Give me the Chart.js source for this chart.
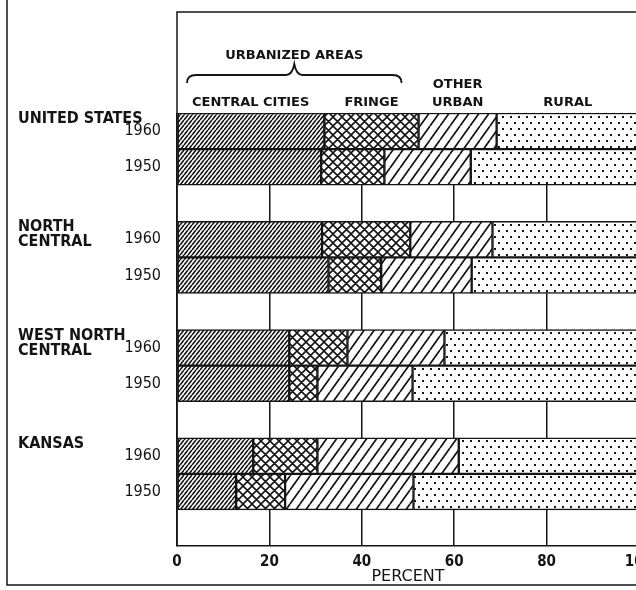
<!DOCTYPE html>
<html>
<head>
<meta charset="utf-8">
<script src="https://cdn.jsdelivr.net/npm/chart.js@4.4.0/dist/chart.umd.min.js"></script>
<style>
  html, body { margin: 0; padding: 0; background: #fff; overflow: hidden; }
  #wrap { width: 660px; height: 590px; }
</style>
</head>
<body>
<div id="wrap"><canvas id="chart" width="660" height="590"></canvas></div>
<script>
// areas, each shown for two census years
var regionLines = [['UNITED STATES'], ['NORTH', 'CENTRAL'], ['WEST NORTH', 'CENTRAL'], ['KANSAS']];
var years = ['1960', '1950'];

// percent of population
// order: US 1960, US 1950, NC 1960, NC 1950, WNC 1960, WNC 1950, KS 1960, KS 1950
var centralCities = [31.9, 31.2, 31.4, 32.8, 24.3, 24.3, 16.5, 12.8];
var fringe        = [20.4, 13.7, 19.1, 11.4, 12.6,  6.1, 13.9, 10.6];
var otherUrban    = [16.9, 18.7, 17.8, 19.6, 21.0, 20.6, 30.6, 27.8];
var rural         = [30.8, 36.4, 31.7, 36.2, 42.1, 49.0, 39.0, 48.8];

var seriesHeads = [['CENTRAL CITIES'], ['FRINGE'], ['OTHER', 'URBAN'], ['RURAL']];
var groupHead = 'URBANIZED AREAS';
var xTicks = [0, 20, 40, 60, 80, 100];

var INK = '#141414';

// one row per year, plus an empty row after each area
var rowLabels = [];
regionLines.forEach(function () {
    rowLabels.push(years[0], years[1], '');
});

function withGaps(arr) {
    var out = [];
    for (var i = 0; i < regionLines.length; i++) {
        out.push(arr[2 * i], arr[2 * i + 1], null);
    }
    return out;
}

var ctx = document.getElementById('chart').getContext('2d');

function makePattern(w, h, draw) {
    var c = document.createElement('canvas');
    c.width = w;
    c.height = h;
    var g = c.getContext('2d');
    g.fillStyle = '#fff';
    g.fillRect(0, 0, w, h);
    g.strokeStyle = INK;
    g.fillStyle = INK;
    draw(g, w, h);
    return ctx.createPattern(c, 'repeat');
}

function slash(g, w, h) {
    for (var k = -1; k <= 1; k++) {
        g.moveTo(k * w, h);
        g.lineTo(k * w + w, 0);
    }
}
function backslash(g, w, h) {
    for (var k = -1; k <= 1; k++) {
        g.moveTo(k * w, 0);
        g.lineTo(k * w + w, h);
    }
}

var densePattern = makePattern(4, 5, function (g, w, h) {
    g.lineWidth = 1.6;
    g.beginPath(); slash(g, w, h); g.stroke();
});
var crossPattern = makePattern(9, 9, function (g, w, h) {
    g.lineWidth = 1.6;
    g.beginPath(); slash(g, w, h); backslash(g, w, h); g.stroke();
});
var widePattern = makePattern(10, 14, function (g, w, h) {
    g.lineWidth = 1.7;
    g.beginPath(); slash(g, w, h); g.stroke();
});
var dotPattern = makePattern(8, 12, function (g) {
    g.fillRect(2, 2, 2, 2);
    g.fillRect(6, 8, 2, 2);
});

var headerPlugin = {
    id: 'header',
    afterDraw: function (chart) {
        var c = chart.ctx, xs = chart.scales.x, ys = chart.scales.y, area = chart.chartArea;
        c.save();
        c.strokeStyle = INK;
        c.lineWidth = 1.5;
        c.beginPath();
        // outer frame
        c.moveTo(7, 0);
        c.lineTo(7, 585);
        c.lineTo(chart.width, 585);
        // plot box
        c.moveTo(chart.width, 12);
        c.lineTo(area.left, 12);
        c.lineTo(area.left, area.bottom);
        c.stroke();

        c.fillStyle = INK;
        c.textAlign = 'center';
        c.textBaseline = 'alphabetic';
        c.font = 'bold 13px "DejaVu Sans"';

        // series names over the first bar's segments
        var series = [centralCities, fringe, otherUrban, rural];
        var cum = 0;
        series.forEach(function (arr, k) {
            var mid = xs.getPixelForValue(cum + arr[0] / 2);
            cum += arr[0];
            var lines = seriesHeads[k];
            lines.forEach(function (t, j) {
                c.fillText(t, mid, 106 - (lines.length - 1 - j) * 18);
            });
        });

        // brace over the urbanized areas
        var s = xs.getPixelForValue(0) + 10;
        var e = xs.getPixelForValue(centralCities[0] + fringe[0]) - 17;
        var tip = (s + e) / 2;
        c.lineWidth = 1.8;
        c.beginPath();
        c.moveTo(s, 83);
        c.quadraticCurveTo(s, 75, s + 9, 75);
        c.lineTo(tip - 8, 75);
        c.quadraticCurveTo(tip - 2, 75, tip, 64);
        c.quadraticCurveTo(tip + 2, 75, tip + 8, 75);
        c.lineTo(e - 9, 75);
        c.quadraticCurveTo(e, 75, e, 83);
        c.stroke();
        c.fillText(groupHead, tip, 59);

        // area names at the left
        var rowH = ys.getPixelForValue(1) - ys.getPixelForValue(0);
        c.textAlign = 'left';
        c.font = 'bold 16px "DejaVu Sans Condensed"';
        regionLines.forEach(function (lines, r) {
            var top = ys.getPixelForValue(r * 3) - rowH / 2;
            lines.forEach(function (t, j) {
                c.fillText(t, 18, top + 10 + j * 15);
            });
        });
        c.restore();
    }
};

function dataset(label, arr, pattern) {
    return {
        label: label,
        data: withGaps(arr),
        backgroundColor: pattern,
        borderColor: INK,
        borderWidth: 1.5,
        borderSkipped: false,
        barPercentage: 1,
        categoryPercentage: 1
    };
}

new Chart(ctx, {
    type: 'bar',
    data: {
        labels: rowLabels,
        datasets: [
            dataset('Central cities', centralCities, densePattern),
            dataset('Fringe', fringe, crossPattern),
            dataset('Other urban', otherUrban, widePattern),
            dataset('Rural', rural, dotPattern)
        ]
    },
    options: {
        indexAxis: 'y',
        responsive: false,
        animation: false,
        layout: { padding: { top: 113, right: 21, left: 0, bottom: 0 } },
        plugins: {
            legend: { display: false },
            tooltip: { enabled: false }
        },
        scales: {
            x: {
                type: 'linear',
                stacked: true,
                min: 0,
                max: 100,
                afterFit: function (s) { s.height = 44; },
                afterBuildTicks: function (s) {
                    s.ticks = xTicks.map(function (v) { return { value: v }; });
                },
                ticks: {
                    padding: 7,
                    color: INK,
                    font: { family: 'DejaVu Sans Condensed', weight: 'bold', size: 15 }
                },
                grid: { color: INK, lineWidth: 1.5, drawTicks: false },
                border: { color: INK, width: 1.5 },
                title: {
                    display: true,
                    text: 'PERCENT',
                    color: INK,
                    font: { family: 'DejaVu Sans', size: 16 },
                    padding: { top: 0, bottom: 4 }
                }
            },
            y: {
                type: 'category',
                stacked: true,
                afterFit: function (s) { s.width = 177; },
                grid: { display: false },
                border: { display: false },
                ticks: {
                    autoSkip: false,
                    padding: 8,
                    color: INK,
                    font: { family: 'DejaVu Sans Condensed', size: 16 }
                }
            }
        }
    },
    plugins: [headerPlugin]
});
</script>
</body>
</html>
